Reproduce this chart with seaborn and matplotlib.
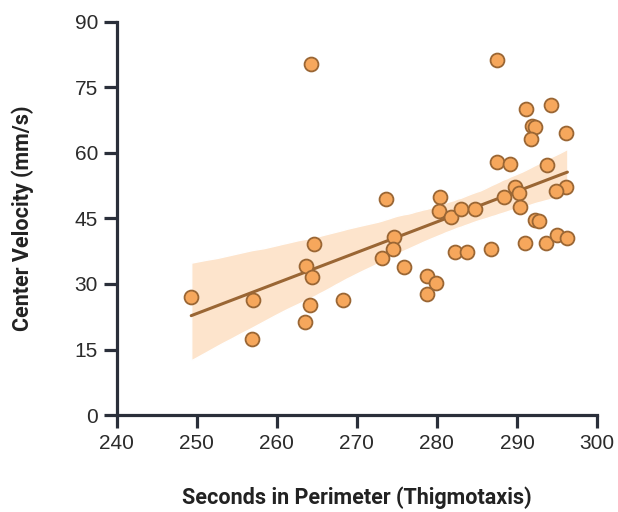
import matplotlib
matplotlib.use("Agg")
import matplotlib.pyplot as plt
import seaborn as sns
import pandas as pd

# values
seconds = [249.3, 257.0, 256.9, 264.3, 264.6, 263.7, 264.4, 264.1, 263.5, 268.3,
           287.5, 291.1, 294.3, 291.9, 292.3, 291.7, 296.1, 287.5, 289.1, 293.7,
           273.6, 280.4, 280.3, 281.8, 283.0, 284.8, 288.4, 289.7, 290.3, 290.4,
           296.1, 294.9, 292.3, 292.8, 291.0, 293.6, 295.0, 296.3, 274.6, 274.5,
           273.1, 275.9, 282.2, 283.8, 286.7, 278.7, 279.9, 278.8]
velocity = [27.0, 26.4, 17.4, 80.2, 39.2, 34.2, 31.6, 25.1, 21.3, 26.3,
            81.2, 70.0, 71.0, 66.1, 65.9, 63.2, 64.6, 57.8, 57.5, 57.2,
            49.4, 49.8, 46.6, 45.3, 47.2, 47.2, 49.9, 52.1, 50.9, 47.5,
            52.2, 51.2, 44.7, 44.4, 39.4, 39.4, 41.3, 40.6, 40.8, 38.0,
            36.0, 33.8, 37.3, 37.3, 37.9, 31.8, 30.2, 27.7]
x_ticks = [240, 250, 260, 270, 280, 290, 300]
y_ticks = [0, 15, 30, 45, 60, 75, 90]

df = pd.DataFrame({"seconds": seconds, "velocity": velocity})

sns.set_style("ticks")
plt.rcParams["font.family"] = ["Roboto", "DejaVu Sans"]

dark = "#2a2f3a"
fig = plt.figure(figsize=(6.18, 5.12), dpi=100)
ax = fig.add_axes([0.189, 0.189, 0.777, 0.769])

sns.regplot(data=df, x="seconds", y="velocity", ax=ax, seed=1,
            scatter_kws=dict(s=100, color="#f6a75c", edgecolor="#9a6634",
                             linewidths=1.3, alpha=1, zorder=3),
            line_kws=dict(color="#9a6634", lw=2.2, zorder=2))
# the confidence band: light peach, opaque
band = ax.collections[1]
band.set_facecolor("#fde4cc")
band.set_alpha(1)
band.set_zorder(1)

ax.set_xlim(240, 300)
ax.set_ylim(0, 90)
ax.set_xticks(x_ticks)
ax.set_yticks(y_ticks)
ax.tick_params(axis="both", length=9.5, width=2.3, color=dark, labelsize=15,
               labelcolor="#2b2b2b", direction="out")
ax.tick_params(axis="y", pad=4)
ax.tick_params(axis="x", pad=4)
for lab in ax.get_xticklabels() + ax.get_yticklabels():
    lab.set_family(["Liberation Sans", "DejaVu Sans"])
for side in ["top", "right"]:
    ax.spines[side].set_visible(False)
for side in ["left", "bottom"]:
    ax.spines[side].set_linewidth(2.3)
    ax.spines[side].set_color(dark)
    ax.spines[side].set_capstyle("projecting")

ax.set_xlabel("Seconds in Perimeter (Thigmotaxis)", fontsize=15.5,
              fontweight="bold", color="#222222", labelpad=24)
ax.set_ylabel("Center Velocity (mm/s)", fontsize=15.5, fontweight="bold",
              color="#222222", labelpad=29)

fig.savefig("out.png", dpi=100)
